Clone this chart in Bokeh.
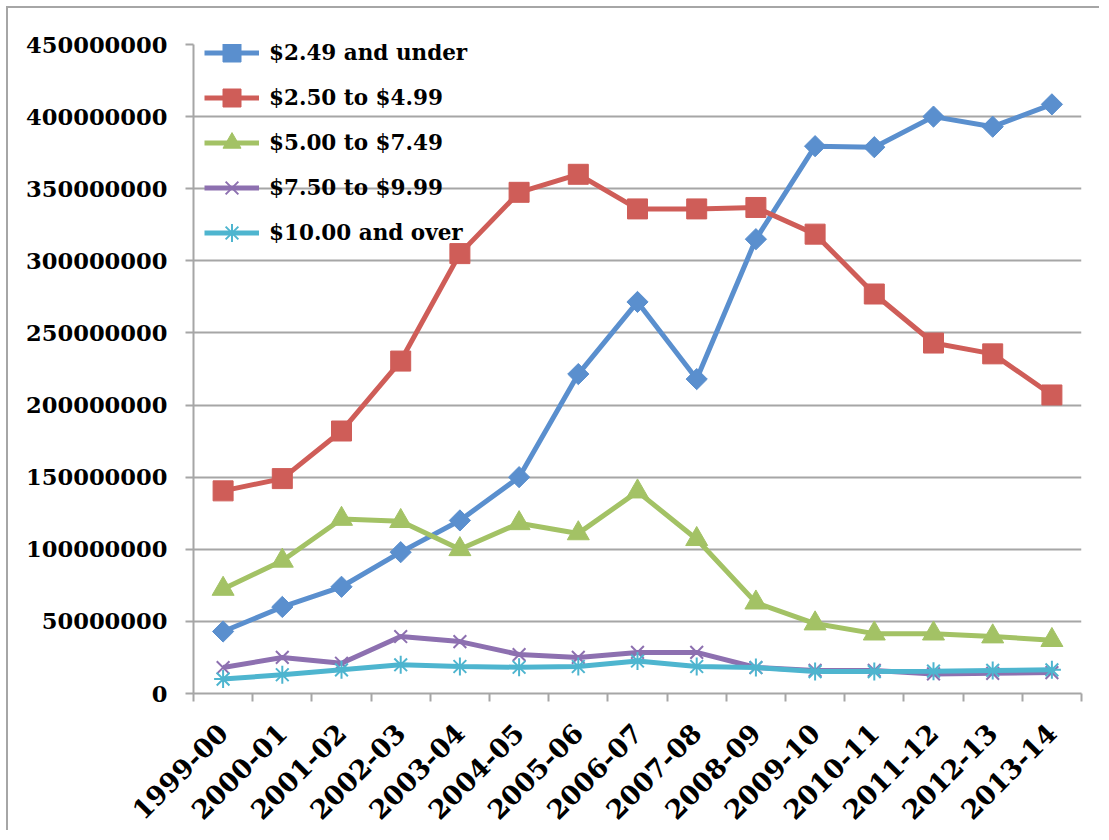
import math
from bokeh.plotting import figure
from bokeh.models import Range1d, FixedTicker, PrintfTickFormatter, Legend, LegendItem, ColumnDataSource
from bokeh.embed import file_html
from bokeh.resources import INLINE

years = ["1999-00", "2000-01", "2001-02", "2002-03", "2003-04", "2004-05", "2005-06",
         "2006-07", "2007-08", "2008-09", "2009-10", "2010-11", "2011-12", "2012-13", "2013-14"]

under_249 = [43e6, 60e6, 74e6, 98e6, 120e6, 150e6, 221.5e6, 271.5e6, 218e6, 315e6,
             379.5e6, 378.8e6, 400e6, 393e6, 408.5e6]
s250_499 = [140.5e6, 149e6, 182e6, 230.5e6, 305e6, 347.5e6, 360e6, 336e6, 336e6, 337e6,
            318.5e6, 277e6, 243e6, 235.5e6, 207e6]
s500_749 = [72.5e6, 92e6, 121e6, 119.5e6, 100e6, 118e6, 111e6, 140e6, 107e6, 63e6,
            48.5e6, 41.5e6, 41.5e6, 39.5e6, 37e6]
s750_999 = [18e6, 25e6, 21e6, 39.5e6, 36e6, 27e6, 25e6, 28.5e6, 28.5e6, 18e6,
            16e6, 16e6, 13.6e6, 14e6, 14.5e6]
s1000_over = [10e6, 13e6, 16.4e6, 19.9e6, 18.7e6, 18.2e6, 18.7e6, 22.5e6, 18.7e6, 18e6,
              15.2e6, 15.2e6, 15.5e6, 16e6, 16.4e6]

labels = ["$2.49 and under", "$2.50 to $4.99", "$5.00 to $7.49", "$7.50 to $9.99", "$10.00 and over"]
colors = ["#5A8FCE", "#CF5D58", "#A3C265", "#8D70B0", "#4EB5CF"]
y_ticks = [0, 50e6, 100e6, 150e6, 200e6, 250e6, 300e6, 350e6, 400e6, 450e6]

series = [under_249, s250_499, s500_749, s750_999, s1000_over]

xs = [i + 0.5 for i in range(len(years))]

W, H = 1093, 824
p = figure(width=W, height=H, output_backend="svg", toolbar_location=None,
           x_range=Range1d(0, len(years)), y_range=Range1d(0, 450e6),
           min_border_left=185, min_border_top=36, min_border_right=20, min_border_bottom=139)
p.outline_line_color = None
p.background_fill_color = "white"
p.border_fill_color = "white"
p.styles = {"margin-left": "6px", "margin-top": "6px",
            "border-top": "2px solid #a6a6a6", "border-left": "2px solid #a6a6a6"}

FONT = "DejaVu Serif"
GRAY = "#a6a6a6"

# y axis
p.yaxis.ticker = FixedTicker(ticks=y_ticks, minor_ticks=[])
p.yaxis.formatter = PrintfTickFormatter(format="%d")
p.yaxis.major_label_text_font = FONT
p.yaxis.major_label_text_font_style = "bold"
p.yaxis.major_label_text_font_size = "22.6px"
p.yaxis.major_label_text_color = "black"
p.yaxis.axis_line_color = GRAY
p.yaxis.axis_line_width = 2
p.yaxis.major_tick_line_color = GRAY
p.yaxis.major_tick_line_width = 2
p.yaxis.major_tick_in = 0
p.yaxis.major_tick_out = 8
p.yaxis.minor_tick_line_color = None
p.yaxis.major_label_standoff = 18

# x axis
p.xaxis.ticker = FixedTicker(ticks=xs, minor_ticks=list(range(len(years) + 1)))
p.xaxis.major_label_overrides = {x: y for x, y in zip(xs, years)}
p.xaxis.major_label_orientation = math.pi / 4
p.xaxis.major_label_text_font = FONT
p.xaxis.major_label_text_font_style = "bold"
p.xaxis.major_label_text_font_size = "26.5px"
p.xaxis.major_label_text_color = "black"
p.xaxis.axis_line_color = GRAY
p.xaxis.axis_line_width = 2
p.xaxis.major_tick_line_color = None
p.xaxis.minor_tick_line_color = GRAY
p.xaxis.minor_tick_line_width = 2
p.xaxis.minor_tick_in = 0
p.xaxis.minor_tick_out = 8
p.xaxis.major_label_standoff = 27

p.xgrid.grid_line_color = None
p.ygrid.ticker = FixedTicker(ticks=y_ticks)
p.ygrid.grid_line_color = GRAY
p.ygrid.grid_line_width = 2

items = []
for i, (vals, lab, col) in enumerate(zip(series, labels, colors)):
    src = ColumnDataSource(dict(x=xs, y=vals))
    ln = p.line("x", "y", source=src, line_color=col, line_width=5)
    if i == 0:
        mk = p.scatter("x", "y", source=src, marker="square", angle=math.pi / 4, size=15,
                       fill_color=col, line_color=col)
    elif i == 1:
        mk = p.scatter("x", "y", source=src, marker="square", size=20,
                       fill_color=col, line_color=col)
    elif i == 2:
        mk = p.scatter("x", "y", source=src, marker="triangle", size=22,
                       fill_color=col, line_color=col)
    elif i == 3:
        mk = p.scatter("x", "y", source=src, marker="x", size=18,
                       line_color=col, line_width=2)
    else:
        mk = p.scatter("x", "y", source=src, marker="asterisk", size=18,
                       line_color=col, line_width=2)
    items.append(LegendItem(label=lab, renderers=[ln, mk]))

legend = Legend(items=items, location=(11, 438), padding=0, margin=0, spacing=0,
                glyph_width=55, glyph_height=45, label_height=45, label_standoff=10,
                label_text_font=FONT, label_text_font_style="bold", label_text_font_size="21.5px",
                label_text_color="black", background_fill_alpha=0, border_line_color=None)
p.add_layout(legend, "center")

open("out.html", "w").write(file_html(p, INLINE))
